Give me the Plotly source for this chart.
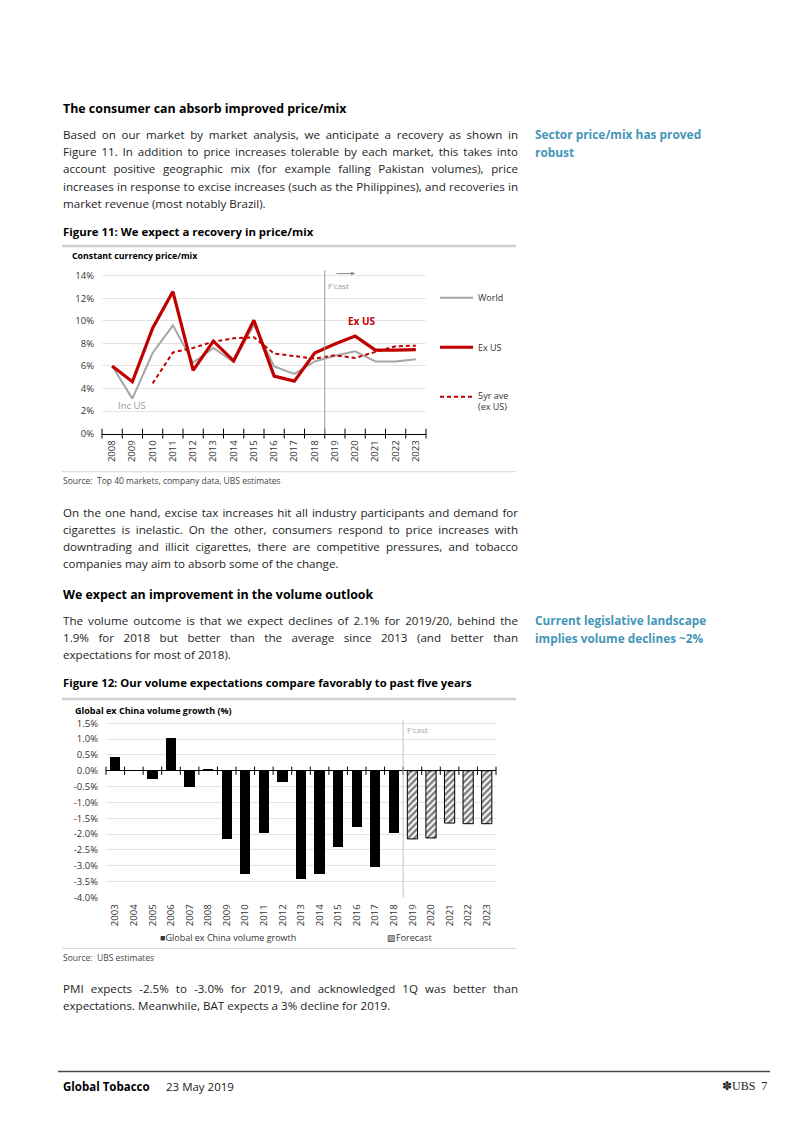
import json
import plotly.graph_objects as go

W, H = 802, 1133
def X(px): return px / W
def Y(py): return 1 - py / H

FONT = "Open Sans"
TEXT = "#1e1e1e"
TEAL = "#4596b8"
RED = "#c00000"
GREY = "#a6a6a6"

# ---------------- data: Figure 11 ----------------
years1 = ["2008", "2009", "2010", "2011", "2012", "2013", "2014", "2015",
          "2016", "2017", "2018", "2019", "2020", "2021", "2022", "2023"]
world = [6.0, 3.1, 7.15, 9.6, 6.3, 7.6, 6.35, 9.65, 5.95, 5.3, 6.4, 6.9, 7.3, 6.4, 6.4, 6.6]
ex_us = [6.0, 4.6, 9.35, 12.6, 5.6, 8.2, 6.45, 10.05, 5.1, 4.65, 7.15, 7.95, 8.65, 7.4, 7.4, 7.45]
ave5 = [None, None, 4.45, 7.2, 7.6, 8.15, 8.45, 8.55, 7.1, 6.85, 6.65, 6.95, 6.7, 7.25, 7.75, 7.8]
y1_ticks = [0, 2, 4, 6, 8, 10, 12, 14]
y1_labels = ["0%", "2%", "4%", "6%", "8%", "10%", "12%", "14%"]
fcast1_after = "2018"

# ---------------- data: Figure 12 ----------------
years2 = ["2003", "2004", "2005", "2006", "2007", "2008", "2009", "2010", "2011", "2012",
          "2013", "2014", "2015", "2016", "2017", "2018", "2019", "2020", "2021", "2022", "2023"]
actual_years = years2[:16]
actual = [0.42, 0.0, -0.25, 1.02, -0.5, 0.07, -2.15, -3.25, -1.95, -0.35,
          -3.43, -3.25, -2.4, -1.78, -3.03, -1.95]
forecast_years = years2[16:]
forecast = [-2.15, -2.12, -1.65, -1.67, -1.67]
y2_ticks = [-4.0, -3.5, -3.0, -2.5, -2.0, -1.5, -1.0, -0.5, 0.0, 0.5, 1.0, 1.5]
y2_labels = ["-4.0%", "-3.5%", "-3.0%", "-2.5%", "-2.0%", "-1.5%", "-1.0%", "-0.5%",
             "0.0%", "0.5%", "1.0%", "1.5%"]

pos1 = list(range(len(years1)))
pos2 = list(range(len(years2)))
apos = [years2.index(y) for y in actual_years]
fpos = [years2.index(y) for y in forecast_years]
split1 = years1.index(fcast1_after) + 0.5
split2 = years2.index(actual_years[-1]) + 0.5

fig = go.Figure()

# Figure 11 lines
fig.add_trace(go.Scatter(x=pos1, y=world, mode="lines", line=dict(color=GREY, width=2),
                         xaxis="x", yaxis="y", hoverinfo="skip"))
fig.add_trace(go.Scatter(x=pos1, y=ave5, mode="lines", line=dict(color=RED, width=2, dash="4px,3px"),
                         xaxis="x", yaxis="y", hoverinfo="skip", connectgaps=False))
fig.add_trace(go.Scatter(x=pos1, y=ex_us, mode="lines", line=dict(color=RED, width=3.2),
                         xaxis="x", yaxis="y", hoverinfo="skip"))
# boundary ticks on the category axis
b1 = [p - 0.5 for p in pos1] + [pos1[-1] + 0.5]
fig.add_trace(go.Scatter(x=b1, y=[0] * len(b1), mode="markers", xaxis="x", yaxis="y",
                         marker=dict(symbol="line-ns", size=7, line=dict(color="black", width=1)),
                         hoverinfo="skip", cliponaxis=False))

# Figure 12 bars
fig.add_trace(go.Bar(x=apos, y=actual, width=0.55, marker=dict(color="black", line=dict(width=0)),
                     xaxis="x2", yaxis="y2", hoverinfo="skip"))
fig.add_trace(go.Bar(x=fpos, y=forecast, width=0.55,
                     marker=dict(color="white", line=dict(color="black", width=1),
                                 pattern=dict(shape="/", fgcolor="black", bgcolor="white",
                                              size=4.5, solidity=0.55)),
                     xaxis="x2", yaxis="y2", hoverinfo="skip"))
b2 = [p - 0.5 for p in pos2] + [pos2[-1] + 0.5]
fig.add_trace(go.Scatter(x=b2, y=[0] * len(b2), mode="markers", xaxis="x2", yaxis="y2",
                         marker=dict(symbol="line-ns", size=6, line=dict(color="black", width=1)),
                         hoverinfo="skip", cliponaxis=False))

tickfont = dict(family=FONT, size=9.5, color="#333")

fig.update_layout(
    width=W, height=H, autosize=False, showlegend=False,
    margin=dict(l=0, r=0, t=0, b=0),
    paper_bgcolor="white", plot_bgcolor="white",
    bargap=0,
    xaxis=dict(domain=[X(102), X(426)], range=[-0.5, len(years1) - 0.5], anchor="y",
               tickvals=pos1, ticktext=years1, tickangle=-90, tickfont=tickfont,
               showgrid=False, zeroline=False, showline=True, linecolor="black", linewidth=1,
               ticks="", ticklabelstandoff=2, fixedrange=True),
    yaxis=dict(domain=[Y(434), Y(269.3)], range=[0, 14.5], anchor="x",
               tickvals=y1_ticks, ticktext=y1_labels, tickfont=tickfont,
               showgrid=True, gridcolor="#e4e4e4", gridwidth=1, zeroline=False,
               showline=False, ticks="", ticklabelstandoff=7, fixedrange=True),
    xaxis2=dict(domain=[X(106), X(496)], range=[-0.5, len(years2) - 0.5], anchor="y2",
                tickvals=pos2, ticktext=years2, tickangle=-90, tickfont=tickfont,
                showgrid=False, zeroline=False, showline=False, ticks="",
                ticklabelstandoff=4, fixedrange=True),
    yaxis2=dict(domain=[Y(901.7), Y(722.8)], range=[-4, 1.6], anchor="x2",
                tickvals=y2_ticks, ticktext=y2_labels, tickfont=tickfont,
                showgrid=True, gridcolor="#e4e4e4", gridwidth=1,
                zeroline=True, zerolinecolor="black", zerolinewidth=1,
                showline=False, ticks="", ticklabelstandoff=7, fixedrange=True),
)

shapes = []
# figure frame rules
for y, w, c in [(245, 2.5, "#cfcfcf"), (472.5, 1, "#d4d4d4"), (701.5, 2.5, "#cfcfcf"), (953, 1, "#d4d4d4")]:
    shapes.append(dict(type="line", xref="paper", yref="paper", x0=X(62), x1=X(516), y0=Y(y), y1=Y(y),
                       line=dict(color=c, width=w)))
# footer rule
shapes.append(dict(type="line", xref="paper", yref="paper", x0=X(58), x1=X(770), y0=Y(1077), y1=Y(1077),
                   line=dict(color="#4a4a4a", width=1.5)))
# forecast separators
shapes.append(dict(type="line", xref="x", yref="y", x0=split1, x1=split1, y0=0, y1=14.5,
                   line=dict(color="#9a9a9a", width=1)))
shapes.append(dict(type="line", xref="x2", yref="y2", x0=split2, x1=split2, y0=-4, y1=1.6,
                   line=dict(color="#c4c4c4", width=1)))
# legend swatches for figure 11
shapes.append(dict(type="line", xref="paper", yref="paper", x0=X(440), x1=X(473), y0=Y(297), y1=Y(297),
                   line=dict(color=GREY, width=2)))
shapes.append(dict(type="line", xref="paper", yref="paper", x0=X(440), x1=X(473), y0=Y(347), y1=Y(347),
                   line=dict(color=RED, width=3.2)))
shapes.append(dict(type="line", xref="paper", yref="paper", x0=X(440), x1=X(473), y0=Y(397), y1=Y(397),
                   line=dict(color=RED, width=2, dash="4px,3px")))
fig.update_layout(shapes=shapes)

ann = []
justify = []

def txt(px, py, s, size=12, color=TEXT, bold=False, anchor="left", family=FONT, just=None):
    t = f"<b>{s}</b>" if bold else s
    ann.append(dict(xref="paper", yref="paper", x=X(px), y=Y(py), text=t, showarrow=False,
                    xanchor=anchor, yanchor="middle", align=anchor,
                    font=dict(family=family, size=size, color=color), borderpad=0))
    if just:
        justify.append([len(ann) - 1, just])

BODY = 11.6
LX = 61.5
JW = 455
HEAD = 12.4

txt(LX, 106, "The consumer can absorb improved price/mix", size=HEAD, color="black", bold=True)
p1 = ["Based on our market by market analysis, we anticipate a recovery as shown in",
      "Figure 11. In addition to price increases tolerable by each market, this takes into",
      "account positive geographic mix (for example falling Pakistan volumes), price",
      "increases in response to excise increases (such as the Philippines), and recoveries in",
      "market revenue (most notably Brazil)."]
for i, line in enumerate(p1):
    txt(LX, 132.7 + i * 17.3, line, size=BODY, just=JW if i < len(p1) - 1 else None)

txt(534, 132.5, "Sector price/mix has proved", size=11.9, color=TEAL, bold=True)
txt(534, 150, "robust", size=11.9, color=TEAL, bold=True)

txt(LX, 230, "Figure 11: We expect a recovery in price/mix", size=11.4, color="black", bold=True)
txt(71, 255.5, "Constant currency price/mix", size=8.8, color="black", bold=True)

txt(477, 297, "World", size=9, color="#333")
txt(477, 347, "Ex US", size=9, color="#333")
txt(477, 396, "5yr ave", size=9, color="#333")
txt(477, 406.5, "(ex US)", size=9, color="#333")

txt(LX, 481, "Source:  Top 40 markets, company data, UBS estimates", size=8.5, color="#444")

p2 = ["On the one hand, excise tax increases hit all industry participants and demand for",
      "cigarettes is inelastic. On the other, consumers respond to price increases with",
      "downtrading and illicit cigarettes, there are competitive pressures, and tobacco",
      "companies may aim to absorb some of the change."]
for i, line in enumerate(p2):
    txt(LX, 513.5 + i * 17.3, line, size=BODY, just=JW if i < len(p2) - 1 else None)

txt(LX, 596, "We expect an improvement in the volume outlook", size=HEAD, color="black", bold=True)
p3 = ["The volume outcome is that we expect declines of 2.1% for 2019/20, behind the",
      "1.9% for 2018 but better than the average since 2013 (and better than",
      "expectations for most of 2018)."]
for i, line in enumerate(p3):
    txt(LX, 622 + i * 17.3, line, size=BODY, just=JW if i < len(p3) - 1 else None)

txt(534, 622, "Current legislative landscape", size=11.8, color=TEAL, bold=True)
txt(534, 640, "implies volume declines ~2%", size=11.8, color=TEAL, bold=True)

txt(LX, 685, "Figure 12: Our volume expectations compare favorably to past five years", size=11.3,
    color="black", bold=True)
txt(74, 713, "Global ex China volume growth (%)", size=9, color="black", bold=True)

txt(159, 942, "■Global ex China volume growth", size=9, color="#333")
txt(386, 942, "▨Forecast", size=9, color="#333")

txt(LX, 962, "Source:  UBS estimates", size=8.5, color="#444")

p4 = ["PMI expects -2.5% to -3.0% for 2019, and acknowledged 1Q was better than",
      "expectations. Meanwhile, BAT expects a 3% decline for 2019."]
for i, line in enumerate(p4):
    txt(LX, 993 + i * 17.3, line, size=BODY, just=JW if i < len(p4) - 1 else None)

txt(LX, 1092, "Global Tobacco", size=11.5, color="black", bold=True)
txt(165, 1092, "23 May 2019", size=11.5, color="#222")
txt(768, 1092, "✽UBS  7", size=12, color="#222", anchor="right", family="Liberation Serif")

# in-chart labels (data coordinates)
ann.append(dict(xref="x", yref="y", x=years1.index("2020") + 0.35, y=10.0, text="<b>Ex US</b>",
                showarrow=False, font=dict(family=FONT, size=10, color=RED)))
ann.append(dict(xref="x", yref="y", x=years1.index("2009"), y=2.45, text="Inc US",
                showarrow=False, font=dict(family=FONT, size=9.5, color="#9a9a9a")))
ann.append(dict(xref="x", yref="y", x=split1 + 0.05, y=13.1, text="F'cast", xanchor="left",
                showarrow=False, font=dict(family=FONT, size=8, color="#9a9a9a")))
ann.append(dict(xref="x", yref="y", x=split1 + 1.5, y=14.2, ax=split1 + 0.5, ay=14.2,
                axref="x", ayref="y", text="", showarrow=True, arrowhead=2, arrowsize=0.8,
                arrowwidth=1, arrowcolor="#8a8a8a"))
ann.append(dict(xref="x2", yref="y2", x=split2 + 0.1, y=1.3, text="F'cast", xanchor="left",
                showarrow=False, font=dict(family=FONT, size=8, color="#a8a8a8")))
ann.append(dict(xref="x2", yref="y2", x=split2 + 1.75, y=1.68, ax=split2 + 1.0, ay=1.68,
                axref="x2", ayref="y2", text="", showarrow=True, arrowhead=2, arrowsize=0.8,
                arrowwidth=1, arrowcolor="#8a8a8a"))

fig.update_layout(annotations=ann)

post = """
var gd = document.getElementById('{plot_id}');
var J = JUSTIFY;
J.forEach(function(p){
  var t = gd.querySelector('.annotation[data-index="' + p[0] + '"] text.annotation-text');
  if (!t) return;
  var s = (t.textContent.match(/ /g) || []).length;
  var w = t.getComputedTextLength();
  if (s > 0) t.style.wordSpacing = ((p[1] - w) / s) + 'px';
});
""".replace("JUSTIFY", json.dumps(justify))

fig.write_html("out.html", post_script=post, config={"displayModeBar": False, "staticPlot": True})
